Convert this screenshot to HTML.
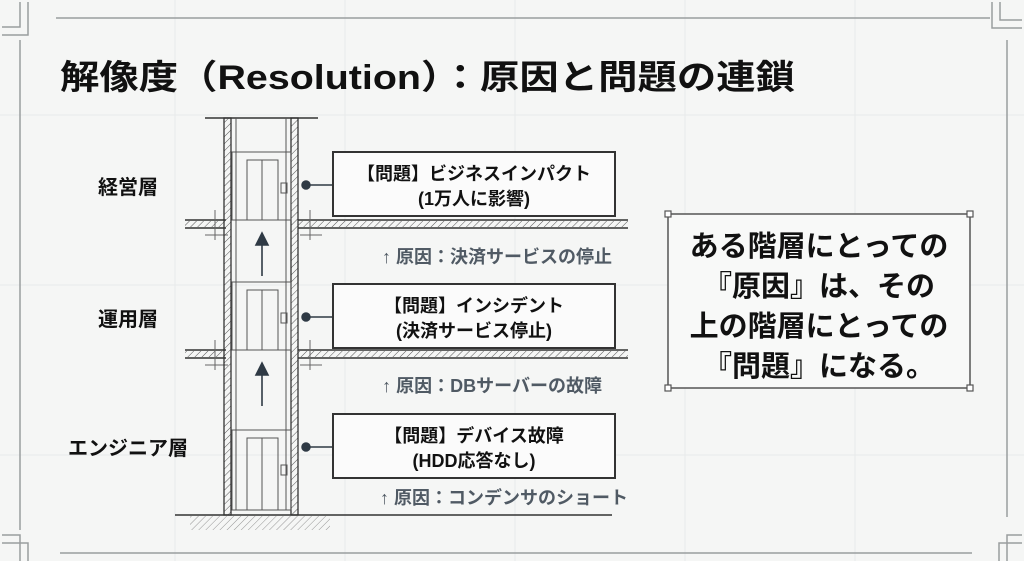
<!DOCTYPE html>
<html><head><meta charset="utf-8"><style>
html,body{margin:0;padding:0;background:#f5f6f5;}
svg{display:block}
text{font-family:"Liberation Sans","Noto Sans CJK JP",sans-serif;font-weight:bold;}
</style></head><body>
<svg width="1024" height="561" viewBox="0 0 1024 561" xmlns="http://www.w3.org/2000/svg">
<defs>
<pattern id="h" width="5" height="5" patternUnits="userSpaceOnUse" patternTransform="rotate(45)">
<line x1="0" y1="0" x2="0" y2="5" stroke="#555" stroke-width="1"/></pattern>
</defs>
<rect width="1024" height="561" fill="#f5f6f5"/>
<g stroke="#e8eaea" stroke-width="1">
<line x1="175" y1="0" x2="175" y2="561"/><line x1="345" y1="0" x2="345" y2="561"/>
<line x1="515" y1="0" x2="515" y2="561"/><line x1="685" y1="0" x2="685" y2="561"/>
<line x1="855" y1="0" x2="855" y2="561"/>
<line x1="0" y1="115" x2="1024" y2="115"/><line x1="0" y1="285" x2="1024" y2="285"/>
<line x1="0" y1="455" x2="1024" y2="455"/>
</g>
<g stroke="#9a9d9f" stroke-width="1.5" fill="none">
<line x1="56" y1="18" x2="990" y2="18"/>
<line x1="20" y1="40" x2="20" y2="530"/>
<line x1="1007" y1="40" x2="1007" y2="517"/>
<line x1="60" y1="553" x2="972" y2="553"/>
<path d="M2 27 H20 V2 M2 35 H28 V2"/>
<path d="M1022 535 H1007 V561 M1022 543 H999 V561"/>
<path d="M1000 2 V20 H1022 M992 2 V28 H1022"/>
<path d="M2 535 H20 V561 M2 543 H28 V561"/>
</g>
<text x="60" y="89" font-size="34" fill="#111" textLength="735" lengthAdjust="spacingAndGlyphs">解像度（Resolution）：原因と問題の連鎖</text>
<g stroke="#333" stroke-width="1.5">
<line x1="185" y1="220" x2="226" y2="220"/><line x1="185" y1="228" x2="226" y2="228"/>
<line x1="298" y1="220" x2="628" y2="220"/><line x1="298" y1="228" x2="628" y2="228"/>
<line x1="185" y1="350" x2="226" y2="350"/><line x1="185" y1="358" x2="226" y2="358"/>
<line x1="298" y1="350" x2="628" y2="350"/><line x1="298" y1="358" x2="628" y2="358"/>
<line x1="175" y1="515" x2="612" y2="515"/>
<line x1="205" y1="118" x2="318" y2="118"/>
</g>
<rect x="185" y="221" width="41" height="6" fill="url(#h)"/><rect x="298" y="221" width="330" height="6" fill="url(#h)"/>
<rect x="185" y="351" width="41" height="6" fill="url(#h)"/><rect x="298" y="351" width="330" height="6" fill="url(#h)"/>
<rect x="190" y="516" width="140" height="14" fill="url(#h)" opacity="0.6"/>
<g stroke="#666" stroke-width="1">
<line x1="215" y1="210" x2="215" y2="240"/><line x1="205" y1="235" x2="228" y2="235"/>
<line x1="310" y1="210" x2="310" y2="240"/><line x1="300" y1="235" x2="322" y2="235"/>
<line x1="215" y1="340" x2="215" y2="370"/><line x1="205" y1="365" x2="228" y2="365"/>
<line x1="310" y1="340" x2="310" y2="370"/><line x1="300" y1="365" x2="322" y2="365"/>
</g>
<rect x="224" y="118" width="7" height="397" fill="url(#h)" stroke="#333" stroke-width="1.3"/>
<rect x="291" y="118" width="7" height="397" fill="url(#h)" stroke="#333" stroke-width="1.3"/>
<g stroke="#555" stroke-width="1" fill="none">
<line x1="236" y1="118" x2="236" y2="510"/><line x1="286" y1="118" x2="286" y2="510"/>
<rect x="232" y="152" width="59" height="68"/><rect x="247" y="160" width="31" height="60"/><line x1="262" y1="160" x2="262" y2="220"/><rect x="281" y="183" width="6" height="10"/>
<rect x="232" y="282" width="59" height="68"/><rect x="247" y="290" width="31" height="60"/><line x1="262" y1="290" x2="262" y2="350"/><rect x="281" y="313" width="6" height="10"/>
<rect x="232" y="430" width="59" height="80"/><rect x="247" y="438" width="31" height="72"/><line x1="262" y1="438" x2="262" y2="510"/><rect x="281" y="465" width="6" height="10"/>
<line x1="232" y1="510" x2="291" y2="510"/>
</g>
<g stroke="#2f3a45" stroke-width="1.6" fill="#2f3a45">
<line x1="262" y1="276" x2="262" y2="240"/><path d="M256 245 L262 233 L268 245Z"/>
<line x1="262" y1="406" x2="262" y2="372"/><path d="M256 375 L262 363 L268 375Z"/>
</g>
<g stroke="#2f3a45" stroke-width="1.5" fill="#2f3a45">
<circle cx="306" cy="185" r="4"/><line x1="306" y1="185" x2="333" y2="185"/>
<circle cx="306" cy="317" r="4"/><line x1="306" y1="317" x2="333" y2="317"/>
<circle cx="306" cy="447" r="4"/><line x1="306" y1="447" x2="333" y2="447"/>
</g>
<g fill="#fbfbfb" stroke="#333" stroke-width="2">
<rect x="333" y="152" width="282" height="64"/>
<rect x="333" y="284" width="282" height="64"/>
<rect x="333" y="414" width="282" height="64"/>
</g>
<g font-size="18" fill="#111" text-anchor="middle">
<text x="474" y="180">【問題】ビジネスインパクト</text><text x="474" y="205">(1万人に影響)</text>
<text x="474" y="312">【問題】インシデント</text><text x="474" y="337">(決済サービス停止)</text>
<text x="474" y="442">【問題】デバイス故障</text><text x="474" y="467">(HDD応答なし)</text>
</g>
<g font-size="18" fill="#505a64" text-anchor="end">
<text x="612" y="263">↑ 原因：決済サービスの停止</text>
<text x="602" y="392">↑ 原因：DBサーバーの故障</text>
<text x="628" y="504">↑ 原因：コンデンサのショート</text>
</g>
<g font-size="20" fill="#111" text-anchor="middle">
<text x="128" y="194">経営層</text><text x="128" y="326">運用層</text><text x="128" y="455">エンジニア層</text>
</g>
<rect x="668" y="214" width="302" height="174" fill="#f8f9f8" stroke="#555" stroke-width="1.5"/>
<g fill="#fff" stroke="#555" stroke-width="1.2">
<rect x="665" y="211" width="6" height="6"/><rect x="967" y="211" width="6" height="6"/>
<rect x="665" y="385" width="6" height="6"/><rect x="967" y="385" width="6" height="6"/>
</g>
<g font-size="29" fill="#111" text-anchor="middle">
<text x="819" y="256">ある階層にとっての</text>
<text x="819" y="296">『原因』は、その</text>
<text x="819" y="336">上の階層にとっての</text>
<text x="819" y="376">『問題』になる。</text>
</g>
</svg>
</body></html>
